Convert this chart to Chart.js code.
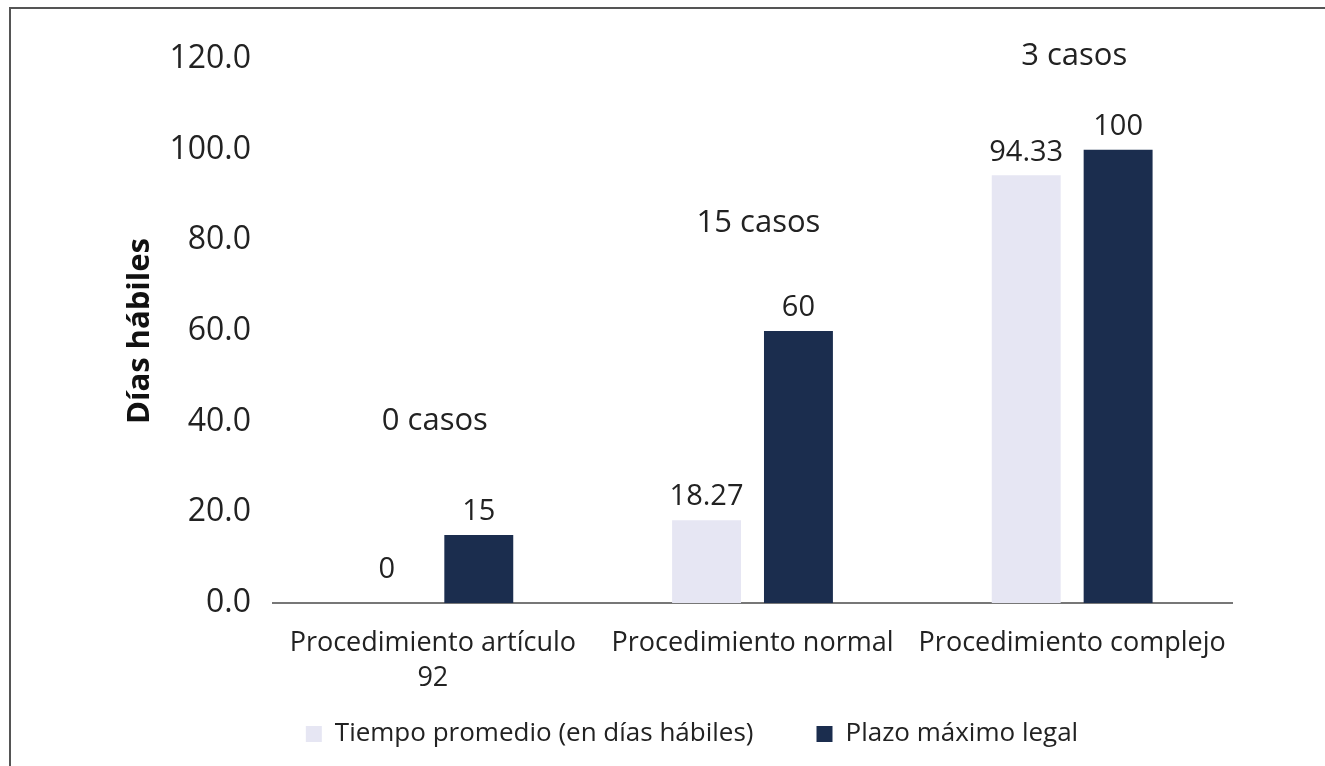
<!DOCTYPE html>
<html>
<head>
<meta charset="utf-8">
<script src="https://cdn.jsdelivr.net/npm/chart.js@4.4.0/dist/chart.umd.min.js"></script>
<style>
  html, body { margin:0; padding:0; background:#fff; }
  #wrap { position:relative; width:1325px; height:766px; overflow:hidden; }
  #frame { position:absolute; left:9px; top:7px; width:1330px; height:770px; border-left:2px solid #555; border-top:2px solid #555; }
  canvas { position:absolute; left:0; top:0; }
</style>
</head>
<body>
<div id="wrap">
  <div id="frame"></div>
  <canvas id="chart" width="1325" height="766"></canvas>
</div>
<script>
// data
const categories = [['Procedimiento artículo', '92'], 'Procedimiento normal', 'Procedimiento complejo'];
const tiempoPromedio = [0, 18.27, 94.33];
const plazoMaximo = [15, 60, 100];
const valueLabelsTiempo = ['0', '18.27', '94.33'];
const valueLabelsPlazo = ['15', '60', '100'];
const casosLabels = ['0 casos', '15 casos', '3 casos'];
const casosLevel = [40, 83.7, 120.7];
const yTicks = [0, 20, 40, 60, 80, 100, 120];

const FONT = '"Open Sans", "Noto Sans", sans-serif';

// value labels above bars + "casos" notes
const labelPlugin = {
  id: 'labels',
  afterLayout(chart){
    // pull the legend up under the axis labels and a bit to the right
    const lg = chart.legend;
    lg.top = 731 - lg.options.labels.padding - 10;
    lg.bottom = chart.height;
    lg.height = lg.bottom - lg.top;
    lg.left += 15; lg.right += 15;
  },
  afterDatasetsDraw(chart){
    const ctx = chart.ctx;
    const yScale = chart.scales.y;
    const xScale = chart.scales.x;
    ctx.save();
    ctx.fillStyle = '#222';
    ctx.font = '29px ' + FONT;
    ctx.textAlign = 'center';
    ctx.textBaseline = 'middle';
    const sets = [valueLabelsTiempo, valueLabelsPlazo];
    chart.data.datasets.forEach((ds, di) => {
      chart.getDatasetMeta(di).data.forEach((bar, i) => {
        const off = ds.data[i] === 0 ? 33 : 23;
        ctx.fillText(sets[di][i], bar.x, bar.y - off);
      });
    });
    ctx.font = '31px ' + FONT;
    casosLabels.forEach((t, i) => {
      ctx.fillText(t, xScale.getPixelForValue(i) + (i === 1 ? 6 : 2), yScale.getPixelForValue(casosLevel[i]));
    });
    ctx.restore();
  }
};

new Chart(document.getElementById('chart'), {
  type: 'bar',
  data: {
    labels: categories,
    datasets: [
      { label: 'Tiempo promedio (en días hábiles)', data: tiempoPromedio, backgroundColor: '#e6e6f3' },
      { label: 'Plazo máximo legal', data: plazoMaximo, backgroundColor: '#1b2d4e' }
    ]
  },
  options: {
    responsive: false,
    animation: false,
    layout: { padding: { top: 59, right: 93, left: 122, bottom: 0 } },
    categoryPercentage: 0.575,
    barPercentage: 0.75,
    plugins: {
      legend: {
        position: 'bottom',
        maxHeight: 71,
        labels: { color: '#222', font: { family: FONT, size: 26 }, boxWidth: 16, boxHeight: 16, padding: 63 }
      },
      tooltip: { enabled: false }
    },
    scales: {
      x: {
        grid: { display: false, drawTicks: false },
        border: { color: '#777', width: 2 },
        ticks: { color: '#222', font: { family: FONT, size: 27, lineHeight: 1.3 }, padding: 23 },
        afterFit(s){ s.height = 92; }
      },
      y: {
        min: 0, max: 120,
        afterBuildTicks(s){ s.ticks = yTicks.map(v => ({ value: v })); },
        grid: { display: false, drawTicks: false },
        border: { display: false },
        ticks: { color: '#222', font: { family: FONT, size: 32 }, padding: 22, callback: v => v.toFixed(1) },
        title: { display: true, text: 'Días hábiles', color: '#111', font: { family: FONT, size: 31, weight: 'bold' }, padding: 0 },
        afterFit(s){ s.width = 151; }
      }
    }
  },
  plugins: [labelPlugin]
});
</script>
</body>
</html>
